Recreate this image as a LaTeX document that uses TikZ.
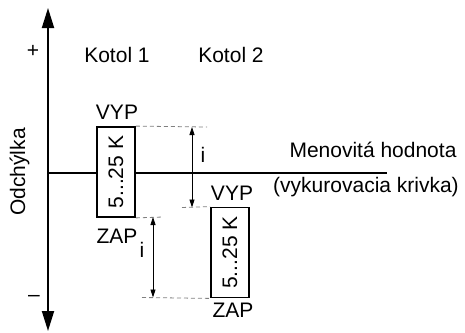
\documentclass[tikz,border=0pt]{standalone}
\usepackage{fontspec}
\setmainfont{Liberation Sans}
\usetikzlibrary{arrows.meta}
\begin{document}
\begin{tikzpicture}[x=1pt,y=-1pt,
  txt/.style={anchor=base,inner sep=0pt,font=\fontsize{21}{25}\selectfont},
  axisline/.style={line width=1.8pt,{Triangle[length=20pt,width=12pt]}-{Triangle[length=20pt,width=12pt]}},
  mainline/.style={line width=1.8pt},
  kbox/.style={draw,line width=1.8pt,fill=white,minimum width=38pt,minimum height=90pt,inner sep=0pt},
  ktext/.style={rotate=90,inner sep=0pt,font=\fontsize{21}{25}\selectfont},
  guide/.style={gray,line width=0.8pt,dash pattern=on 4pt off 3pt},
  dim/.style={line width=0.8pt,{Triangle[length=8pt,width=5pt]}-{Triangle[length=8pt,width=5pt]}}]
\useasboundingbox (0,0) rectangle (465,332);
% axis
\coordinate (atop) at (48,8);
\coordinate (abot) at (48,331);
\draw[axisline] (abot) -- (atop);
\node[txt] (plus) at (33,57) {+};
\node[txt] (minus) at (34,301) {–};
\node[txt,rotate=90] (odch) at (25,172) {Odchýlka};
% labels
\node[txt] (k1) at (117,62) {Kotol 1};
\node[txt] (k2) at (231,62) {Kotol 2};
% nominal line
\coordinate (ls) at (48,173);
\coordinate (le) at (387,173);
\draw[mainline] (ls) -- (le);
\node[txt] (men) at (373,157) {Menovitá hodnota};
\node[txt] (vyk) at (366,192) {(vykurovacia krivka)};
% boxes
\node[kbox] (b1) at (116,172) {};
\node[ktext] (t1) at (b1.center) {5...25 K};
\node[kbox] (b2) at (230,252.5) {};
\node[ktext] (t2) at (b2.center) {5...25 K};
\node[txt] (vyp1) at (117,119) {VYP};
\node[txt] (zap1) at (117,243) {ZAP};
\node[txt] (vyp2) at (232,200) {VYP};
\node[txt] (zap2) at (233,317) {ZAP};
% guides
\coordinate (g1e) at (207,127);
\coordinate (g2s) at (182,207.5);
\coordinate (g3e) at (163,217);
\coordinate (g4s) at (142,297.5);
\draw[guide] (b1.north east) -- (g1e);
\draw[guide] (g2s) -- (b2.north west);
\draw[guide] (b1.south east) -- (g3e);
\draw[guide] (g4s) -- (b2.south west);
% dimension arrows
\coordinate (d1a) at (192,127);
\coordinate (d1b) at (192,207.5);
\coordinate (d2a) at (153,217);
\coordinate (d2b) at (153,297.5);
\draw[dim] (d1a) -- (d1b);
\draw[dim] (d2a) -- (d2b);
\node[txt] (i1) at (203,162) {i};
\node[txt] (i2) at (142,257) {i};
\end{tikzpicture}
\end{document}
